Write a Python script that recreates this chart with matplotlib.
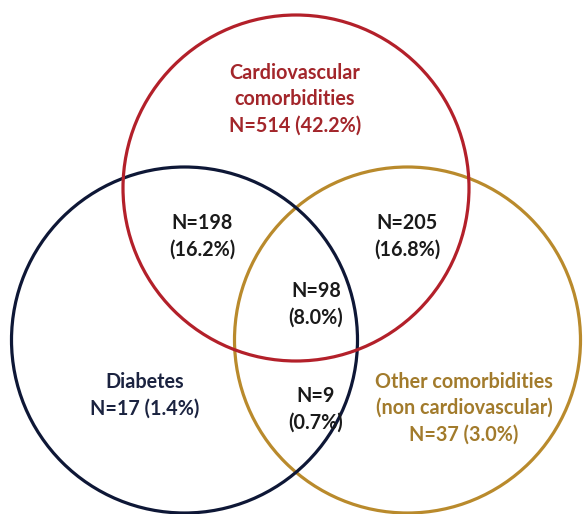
import matplotlib
matplotlib.use("Agg")
import matplotlib.pyplot as plt
from matplotlib.patches import Circle

# Set sizes (patients) and shares of the cohort
set_names = ["Cardiovascular\ncomorbidities", "Diabetes", "Other comorbidities\n(non cardiovascular)"]
set_only_n = [514, 17, 37]
set_only_pct = [42.2, 1.4, 3.0]

# Overlaps: CV & Diabetes, CV & Other, all three, Diabetes & Other
overlap_n = [198, 205, 98, 9]
overlap_pct = [16.2, 16.8, 8.0, 0.7]

circle_colors = ["#B3202A", "#0E1736", "#B98A2C"]
label_colors = ["#A3262B", "#1B2340", "#A27B2C"]
text_color = "#1A1A1A"

W, H = 584, 514
fig = plt.figure(figsize=(W / 100, H / 100), dpi=100)
ax = fig.add_axes([0, 0, 1, 1])
ax.set_xlim(0, W)
ax.set_ylim(H, 0)
ax.set_aspect("equal")
ax.axis("off")

radius = 173
centers = [(296, 188), (184.5, 340), (407.5, 340)]
for idx in (2, 1, 0):
    ax.add_patch(Circle(centers[idx], radius, fill=False,
                        edgecolor=circle_colors[idx], linewidth=2.3))

font = dict(family=["Lato", "DejaVu Sans"], fontweight="bold", fontsize=14.2,
            ha="center", va="center", linespacing=1.4)

# Single-set labels
set_label_pos = [(295, 99), (145, 395), (464, 408)]
for name, n, p, (x, y), c in zip(set_names, set_only_n, set_only_pct,
                                 set_label_pos, label_colors):
    ax.text(x, y, f"{name}\nN={n} ({p:.1f}%)", color=c, **font)

# Overlap labels
overlap_pos = [(202, 236), (407, 236), (316, 304), (316, 409)]
for n, p, (x, y) in zip(overlap_n, overlap_pct, overlap_pos):
    ax.text(x, y, f"N={n}\n({p:.1f}%)", color=text_color, **font)

fig.savefig("out.png", dpi=100)
